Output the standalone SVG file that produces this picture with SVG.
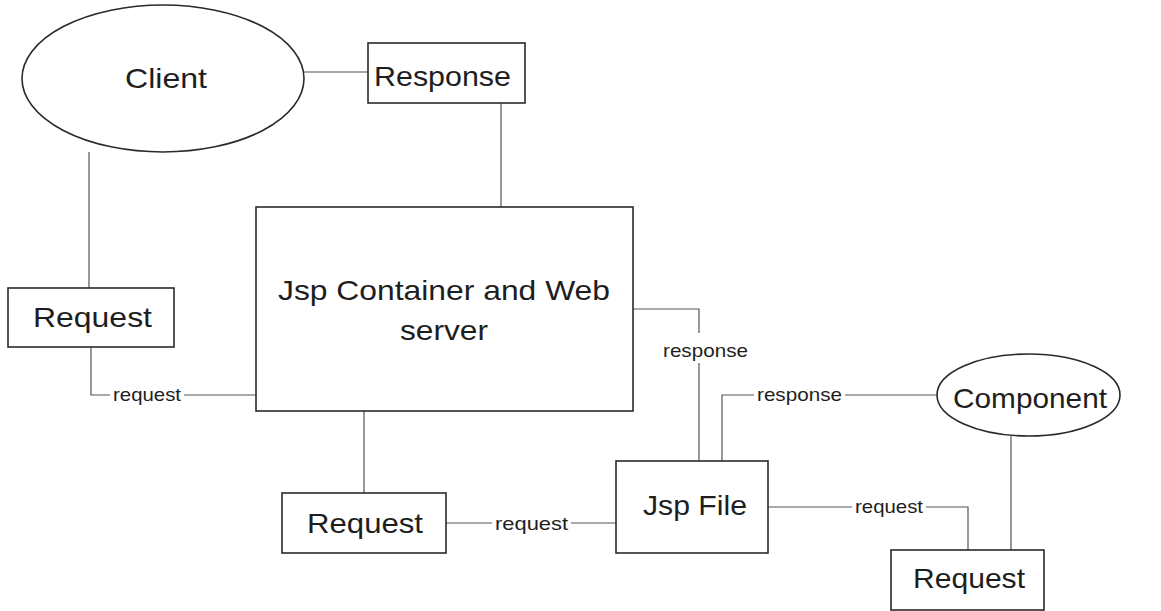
<svg xmlns="http://www.w3.org/2000/svg" width="1161" height="611" viewBox="0 0 1161 611">
<style>
.shape{fill:#fff;stroke:#2a2a2a;stroke-width:1.6}
.big{font-family:"Liberation Sans",Arial,sans-serif;font-size:28px;fill:#1e1e1e}
.lbl{font-family:"Liberation Sans",Arial,sans-serif;font-size:19px;fill:#1e1e1e}
#connectors path{fill:none;stroke:#555;stroke-width:1.2}
</style>
<rect width="1161" height="611" fill="#fff"/>
<g id="connectors">
<path d="M304,72H368"/>
<path d="M89,152V288"/>
<path d="M501,103V207"/>
<path d="M91,347V395H110"/>
<path d="M184,395H256"/>
<path d="M364,411V493"/>
<path d="M446,523H492"/>
<path d="M571,523H616"/>
<path d="M633,309H699V333"/>
<path d="M699,363V461"/>
<path d="M722,461V395H754"/>
<path d="M845,395H937"/>
<path d="M768,507H852"/>
<path d="M926,507H968V550"/>
<path d="M1011,436V550"/>
<text class="lbl" x="113" y="401" textLength="68" lengthAdjust="spacingAndGlyphs">request</text>
<text class="lbl" x="495" y="530" textLength="73" lengthAdjust="spacingAndGlyphs">request</text>
<text class="lbl" x="663" y="357" textLength="85" lengthAdjust="spacingAndGlyphs">response</text>
<text class="lbl" x="757" y="401" textLength="85" lengthAdjust="spacingAndGlyphs">response</text>
<text class="lbl" x="855" y="513" textLength="68" lengthAdjust="spacingAndGlyphs">request</text>
</g>
<g id="client">
<ellipse class="shape" cx="163" cy="78.5" rx="141" ry="73.5"/>
<text class="big" x="125" y="88" textLength="82" lengthAdjust="spacingAndGlyphs">Client</text>
</g>
<g id="response">
<rect class="shape" x="368" y="43" width="157" height="60"/>
<text class="big" x="374" y="86" textLength="137" lengthAdjust="spacingAndGlyphs">Response</text>
</g>
<g id="container">
<rect class="shape" x="256" y="207" width="377" height="204"/>
<text class="big" x="278" y="300" font-size="30" textLength="332" lengthAdjust="spacingAndGlyphs">Jsp Container and Web</text>
<text class="big" x="400" y="340" font-size="30" textLength="88" lengthAdjust="spacingAndGlyphs">server</text>
</g>
<g id="request-left">
<rect class="shape" x="8" y="288" width="166" height="59"/>
<text class="big" x="33" y="327" textLength="119" lengthAdjust="spacingAndGlyphs">Request</text>
</g>
<g id="request-middle">
<rect class="shape" x="282" y="493" width="164" height="60"/>
<text class="big" x="307" y="533" textLength="116" lengthAdjust="spacingAndGlyphs">Request</text>
</g>
<g id="jsp-file">
<rect class="shape" x="616" y="461" width="152" height="92"/>
<text class="big" x="643" y="515" textLength="104" lengthAdjust="spacingAndGlyphs">Jsp File</text>
</g>
<g id="component">
<ellipse class="shape" cx="1028.5" cy="395" rx="91.5" ry="41"/>
<text class="big" x="953" y="408" textLength="154" lengthAdjust="spacingAndGlyphs">Component</text>
</g>
<g id="request-right">
<rect class="shape" x="891" y="550" width="153" height="60"/>
<text class="big" x="913" y="588" textLength="112" lengthAdjust="spacingAndGlyphs">Request</text>
</g>
</svg>
